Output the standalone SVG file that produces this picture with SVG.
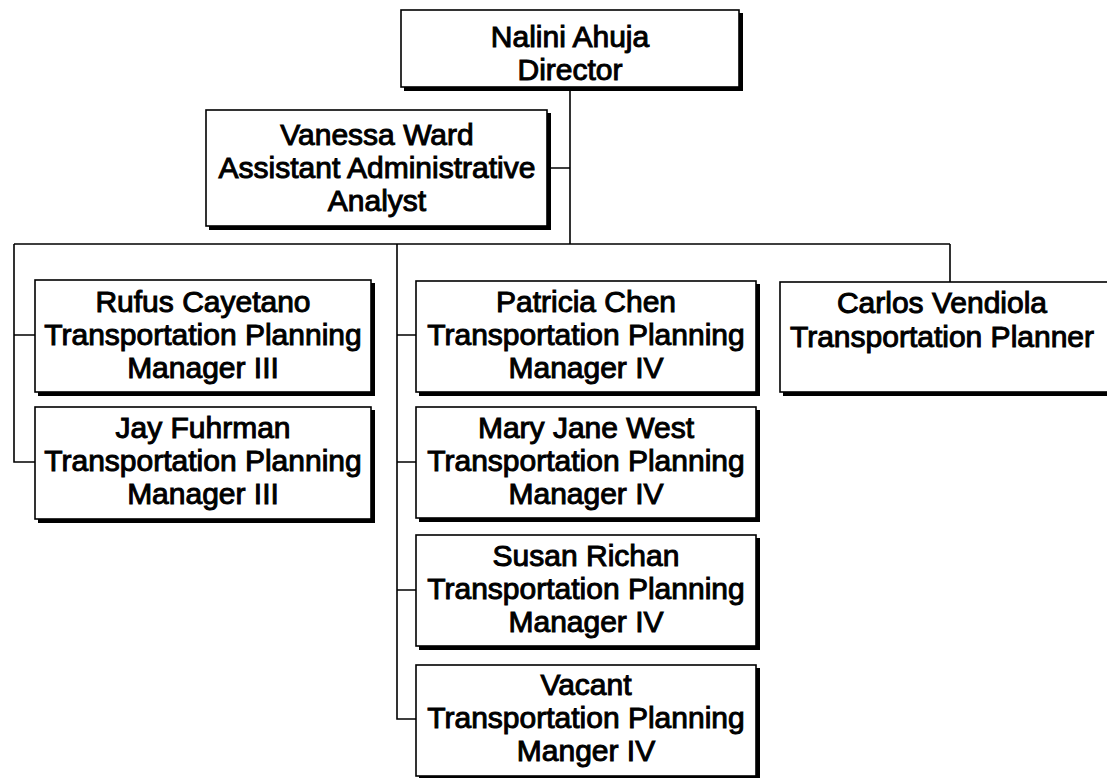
<svg xmlns="http://www.w3.org/2000/svg" width="1107" height="778" viewBox="0 0 1107 778">
<style>
.sh{fill:#000}
.bx{fill:#fff;stroke:#000;stroke-width:1.6}
.t{font-family:"Liberation Sans",Arial,sans-serif;font-size:30px;fill:#000;stroke:#000;stroke-width:1;text-anchor:middle}
.c{fill:none;stroke:#000;stroke-width:1.6}
</style>
<rect width="1107" height="778" fill="#fff"/>
<g id="connectors">
<path class="c" d="M570 88V244M548 168H570M14 244H950M14 244V462H35M14 335H35M950 244V282M397 244V719H416M397 335H416M397 462H416M397 590H416"/>
</g>
<g id="director">
<rect class="sh" x="404" y="13" width="339" height="78"/>
<rect class="bx" x="401" y="10" width="338" height="77"/>
<text class="t" x="570" y="47">Nalini Ahuja</text>
<text class="t" x="570" y="80">Director</text>
</g>
<g id="vanessa">
<rect class="sh" x="209" y="113" width="342" height="117"/>
<rect class="bx" x="206" y="110" width="341" height="116"/>
<text class="t" x="377" y="145">Vanessa Ward</text>
<text class="t" x="377" y="178">Assistant Administrative</text>
<text class="t" x="377" y="211">Analyst</text>
</g>
<g id="rufus">
<rect class="sh" x="38" y="283" width="337" height="113"/>
<rect class="bx" x="35" y="280" width="336" height="112"/>
<text class="t" x="203" y="312">Rufus Cayetano</text>
<text class="t" x="203" y="345">Transportation Planning</text>
<text class="t" x="203" y="378">Manager III</text>
</g>
<g id="jay">
<rect class="sh" x="38" y="410" width="337" height="113"/>
<rect class="bx" x="35" y="407" width="336" height="112"/>
<text class="t" x="203" y="438">Jay Fuhrman</text>
<text class="t" x="203" y="471">Transportation Planning</text>
<text class="t" x="203" y="504">Manager III</text>
</g>
<g id="patricia">
<rect class="sh" x="419" y="284" width="341" height="112"/>
<rect class="bx" x="416" y="281" width="340" height="111"/>
<text class="t" x="586" y="312">Patricia Chen</text>
<text class="t" x="586" y="345">Transportation Planning</text>
<text class="t" x="586" y="378">Manager IV</text>
</g>
<g id="maryjane">
<rect class="sh" x="419" y="410" width="341" height="112"/>
<rect class="bx" x="416" y="407" width="340" height="111"/>
<text class="t" x="586" y="438">Mary Jane West</text>
<text class="t" x="586" y="471">Transportation Planning</text>
<text class="t" x="586" y="504">Manager IV</text>
</g>
<g id="susan">
<rect class="sh" x="419" y="538" width="341" height="112"/>
<rect class="bx" x="416" y="535" width="340" height="111"/>
<text class="t" x="586" y="566">Susan Richan</text>
<text class="t" x="586" y="599">Transportation Planning</text>
<text class="t" x="586" y="632">Manager IV</text>
</g>
<g id="vacant">
<rect class="sh" x="419" y="668" width="341" height="112"/>
<rect class="bx" x="416" y="665" width="340" height="111"/>
<text class="t" x="586" y="695">Vacant</text>
<text class="t" x="586" y="728">Transportation Planning</text>
<text class="t" x="586" y="761">Manger IV</text>
</g>
<g id="carlos">
<rect class="sh" x="783" y="285" width="330" height="111"/>
<rect class="bx" x="780" y="282" width="330" height="110"/>
<text class="t" x="942" y="313">Carlos Vendiola</text>
<text class="t" x="942" y="347">Transportation Planner</text>
</g>
</svg>
